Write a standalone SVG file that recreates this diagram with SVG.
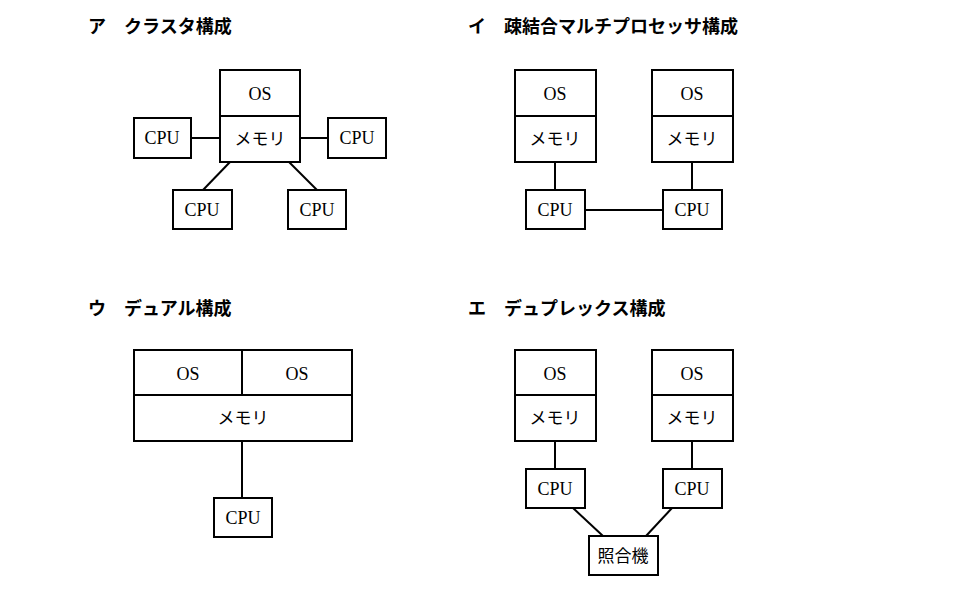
<svg xmlns="http://www.w3.org/2000/svg" width="973" height="602" viewBox="0 0 973 602">
<style>
rect{fill:#fff;stroke:#000;stroke-width:2}
line{stroke:#000;stroke-width:2}
.t{font-family:"Noto Sans CJK JP",sans-serif;font-size:18px;font-weight:bold}
.l{font-family:"Liberation Serif","Noto Sans CJK JP",serif;font-size:18px;text-anchor:middle}
.j{font-family:"Noto Sans CJK JP",sans-serif;font-size:17px;text-anchor:middle}
</style>
<rect x="0" y="0" width="973" height="602" style="fill:#fff;stroke:none"/>
<text class="t" x="88" y="33">ア　クラスタ構成</text>
<text class="t" x="468" y="33">イ　疎結合マルチプロセッサ構成</text>
<text class="t" x="88" y="315">ウ　デュアル構成</text>
<text class="t" x="468" y="315">エ　デュプレックス構成</text>
<g id="connectors">
<line x1="191" y1="138" x2="220" y2="138"/><line x1="300" y1="138" x2="328" y2="138"/>
<line x1="230" y1="162" x2="203" y2="190"/><line x1="289" y1="162" x2="317" y2="190"/>
<line x1="555" y1="162" x2="555" y2="190"/><line x1="692" y1="162" x2="692" y2="190"/>
<line x1="585" y1="210" x2="663" y2="210"/>
<line x1="242" y1="441" x2="242" y2="498"/>
<line x1="555" y1="441" x2="555" y2="469"/><line x1="692" y1="441" x2="692" y2="469"/>
<line x1="573" y1="508" x2="603" y2="536"/><line x1="672" y1="508" x2="646" y2="536"/>
</g>
<g id="a-mem"><rect x="220" y="70" width="80" height="92"/><line x1="220" y1="116" x2="300" y2="116"/><text class="l" x="260" y="100">OS</text><text class="j" x="260" y="145">メモリ</text></g>
<g id="a-cpu1"><rect x="134" y="118" width="57" height="40"/><text class="l" x="162" y="144">CPU</text></g>
<g id="a-cpu2"><rect x="328" y="118" width="58" height="40"/><text class="l" x="357" y="144">CPU</text></g>
<g id="a-cpu3"><rect x="173" y="190" width="59" height="39"/><text class="l" x="202" y="216">CPU</text></g>
<g id="a-cpu4"><rect x="288" y="190" width="58" height="39"/><text class="l" x="317" y="216">CPU</text></g>
<g id="i-mem1"><rect x="515" y="70" width="81" height="92"/><line x1="515" y1="116" x2="596" y2="116"/><text class="l" x="555" y="100">OS</text><text class="j" x="555" y="145">メモリ</text></g>
<g id="i-mem2"><rect x="652" y="70" width="81" height="92"/><line x1="652" y1="116" x2="733" y2="116"/><text class="l" x="692" y="100">OS</text><text class="j" x="692" y="145">メモリ</text></g>
<g id="i-cpu1"><rect x="526" y="190" width="59" height="39"/><text class="l" x="555" y="216">CPU</text></g>
<g id="i-cpu2"><rect x="663" y="190" width="59" height="39"/><text class="l" x="692" y="216">CPU</text></g>
<g id="u-mem"><rect x="134" y="350" width="218" height="91"/><line x1="134" y1="395" x2="352" y2="395"/><line x1="242" y1="350" x2="242" y2="395"/><text class="l" x="188" y="380">OS</text><text class="l" x="297" y="380">OS</text><text class="j" x="243" y="424">メモリ</text></g>
<g id="u-cpu"><rect x="214" y="498" width="58" height="39"/><text class="l" x="243" y="524">CPU</text></g>
<g id="e-mem1"><rect x="515" y="350" width="81" height="91"/><line x1="515" y1="395" x2="596" y2="395"/><text class="l" x="555" y="380">OS</text><text class="j" x="555" y="424">メモリ</text></g>
<g id="e-mem2"><rect x="652" y="350" width="81" height="91"/><line x1="652" y1="395" x2="733" y2="395"/><text class="l" x="692" y="380">OS</text><text class="j" x="692" y="424">メモリ</text></g>
<g id="e-cpu1"><rect x="526" y="469" width="59" height="39"/><text class="l" x="555" y="495">CPU</text></g>
<g id="e-cpu2"><rect x="663" y="469" width="59" height="39"/><text class="l" x="692" y="495">CPU</text></g>
<g id="e-cmp"><rect x="589" y="536" width="69" height="39"/><text class="j" x="623" y="562">照合機</text></g>
</svg>
